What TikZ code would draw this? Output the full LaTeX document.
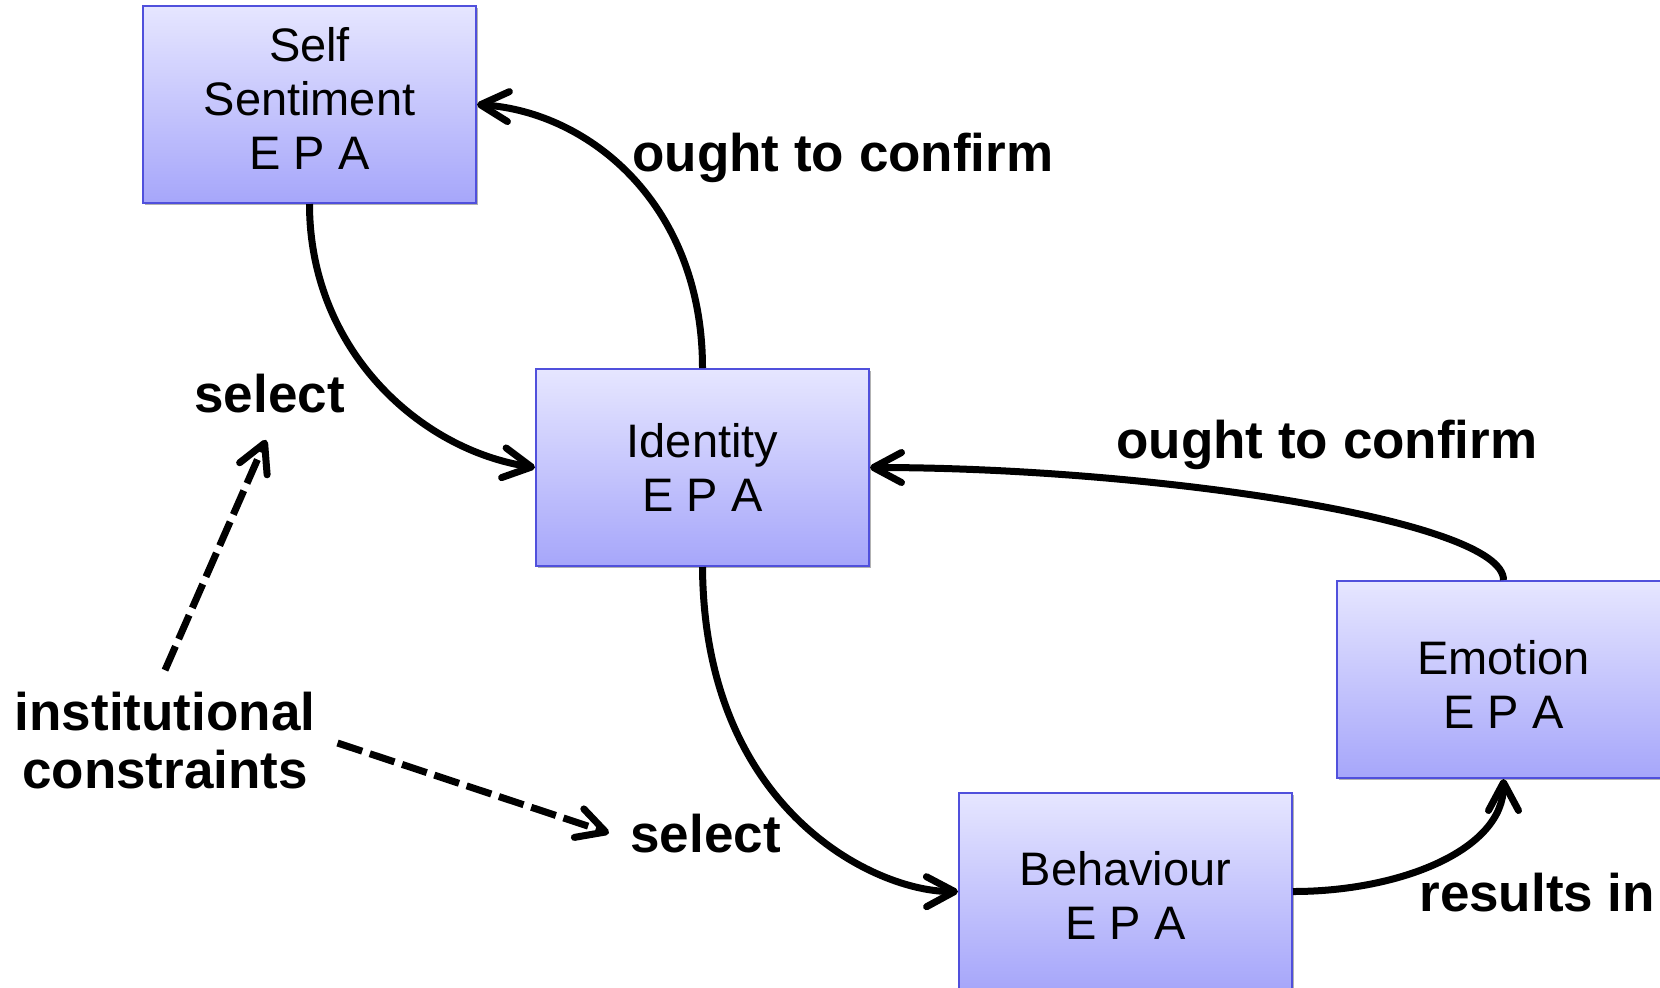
\documentclass[tikz,border=0pt]{standalone}
\usepackage{fontspec}
\setmainfont{Liberation Sans}
\usetikzlibrary{arrows.meta,shadows}
\definecolor{boxtop}{RGB}{230,230,255}
\definecolor{boxbot}{RGB}{166,166,250}
\definecolor{boxline}{RGB}{80,80,220}
\begin{document}
\begin{tikzpicture}[x=0.5pt,y=-0.5pt,
  epabox/.style={draw=boxline, line width=1pt, top color=boxtop, bottom color=boxbot,
    minimum width=166.5pt, minimum height=98.5pt, inner sep=0pt, align=center,
    font=\fontsize{23.5}{27}\selectfont,
    drop shadow={shadow xshift=1.2pt, shadow yshift=-1.2pt, opacity=0.3, fill=black}},
  lbl/.style={font=\fontsize{26.5}{29}\selectfont\bfseries, inner sep=0pt, align=center},
  link/.style={line width=3.5pt, -{Straight Barb[length=14pt,width=15pt,line cap=round,line join=round]}},
  dlink/.style={link, dash pattern=on 13pt off 4pt}]
\useasboundingbox (0,0) rectangle (1660,987);
\clip (0,0) rectangle (1660,987);

% the four E P A boxes (struts set the text a little off centre)
\node[epabox] (self)  at (309.5,104.5) {Self\\Sentiment\\E P A\rule[-6pt]{0pt}{0pt}};
\node[epabox] (ident) at (702.5,467.5) {Identity\\E P A};
\node[epabox] (emo)   at (1503.5,679.5) {\rule{0pt}{22pt}Emotion\\E P A};
\node[epabox] (behav) at (1125.5,891.5) {\rule{0pt}{21pt}Behaviour\\E P A};

% labels
\node[lbl, anchor=base west] (conf1) at (632,171) {ought to confirm};
\node[lbl, anchor=base west] (conf2) at (1116,458) {ought to confirm};
\node[lbl, anchor=base west] (sel1) at (194,412) {select};
\node[lbl, anchor=base west] (sel2) at (630,852) {select};
\node[lbl, anchor=base west] (res) at (1419,911) {results in};
\node[lbl] (inst) at (165,741) {institutional\\constraints};

% cycle connectors
\draw[link] (self.south) .. controls (309.5,350) and (420,450) .. (ident.west);
\draw[link] (ident.north) .. controls (702.5,205) and (590,112) .. (self.east);
\draw[link] (emo.north) .. controls (1503.5,520) and (1150,467.5) .. (ident.east);
\draw[link] (ident.south) .. controls (704,810) and (875,892) .. (behav.west);
\draw[link] (behav.east) .. controls (1400,891.5) and (1503.5,850) .. (emo.south);

% institutional constraints
\draw[dlink] ([yshift=11pt]inst.north) -- ([xshift=-1.75pt,yshift=-13.5pt]sel1.south);
\draw[dlink] ([xshift=11pt,yshift=-1pt]inst.east) -- ([xshift=-10.5pt]sel2.west);
\end{tikzpicture}
\end{document}
